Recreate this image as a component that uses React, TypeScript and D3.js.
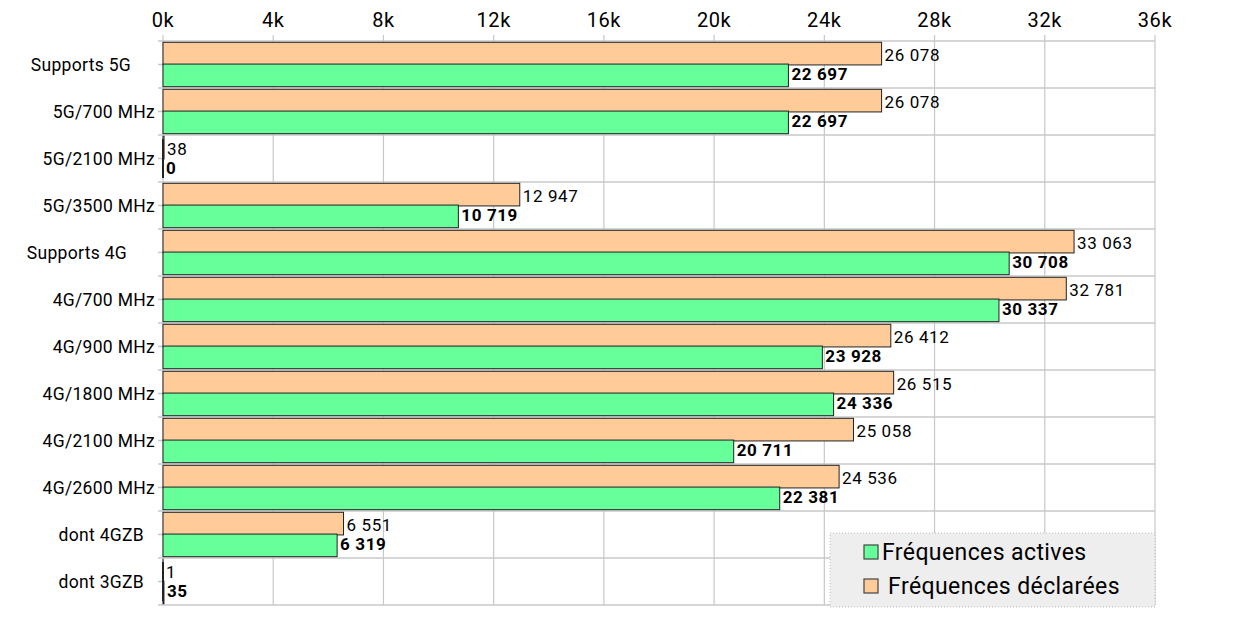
import React, { useEffect, useRef } from "react";
import * as d3 from "d3";

// categories (some are shifted left in the source chart, as if padded with spaces)
const categories = [
  "Supports 5G",
  "5G/700 MHz",
  "5G/2100 MHz",
  "5G/3500 MHz",
  "Supports 4G",
  "4G/700 MHz",
  "4G/900 MHz",
  "4G/1800 MHz",
  "4G/2100 MHz",
  "4G/2600 MHz",
  "dont 4GZB",
  "dont 3GZB",
];
const labelOffsets = [24, 0, 0, 0, 28, 0, 0, 0, 0, 0, 11, 11];

const declared = [26078, 26078, 38, 12947, 33063, 32781, 26412, 26515, 25058, 24536, 6551, 1];
const active = [22697, 22697, 0, 10719, 30708, 30337, 23928, 24336, 20711, 22381, 6319, 35];

const xTicks = [0, 4000, 8000, 12000, 16000, 20000, 24000, 28000, 32000, 36000];

const seriesNames = ["Fréquences actives", " Fréquences déclarées"];
const colors = { active: "#66ff99", declared: "#ffcc99" };

const W = 1240;
const H = 622;
const margin = { top: 41, right: 85, bottom: 17, left: 163 };
const FONT = "Roboto, 'Noto Sans', sans-serif";

const fmt = (v: number) => d3.format(",")(v).replace(/,/g, " ");

const App: React.FC = () => {
  const svgRef = useRef<SVGSVGElement | null>(null);

  useEffect(() => {
    if (!svgRef.current) return;
    const svg = d3.select(svgRef.current);
    svg.selectAll("*").remove();

    const x = d3.scaleLinear().domain([0, 36000]).range([margin.left, W - margin.right]);
    const y = d3
      .scaleBand()
      .domain(categories)
      .range([margin.top, H - margin.bottom]);
    const inner = d3
      .scaleBand()
      .domain(["declared", "active"])
      .range([0, y.bandwidth()])
      .paddingOuter(0.06)
      .paddingInner(-0.04);

    const g = svg.append("g");

    // vertical grid
    g.selectAll(".vgrid")
      .data(xTicks)
      .enter()
      .append("line")
      .attr("x1", (d) => x(d))
      .attr("x2", (d) => x(d))
      .attr("y1", margin.top - 6)
      .attr("y2", H - margin.bottom)
      .attr("stroke", "#c8c8c8")
      .attr("stroke-width", 1.2);

    // horizontal row separators
    const bounds = categories.map((c) => y(c)!).concat([H - margin.bottom]);
    g.selectAll(".hgrid")
      .data(bounds)
      .enter()
      .append("line")
      .attr("x1", margin.left - 5)
      .attr("x2", x(36000))
      .attr("y1", (d) => d)
      .attr("y2", (d) => d)
      .attr("stroke", "#c8c8c8")
      .attr("stroke-width", 1.5);

    // top axis labels
    g.selectAll(".xlab")
      .data(xTicks)
      .enter()
      .append("text")
      .attr("x", (d) => x(d))
      .attr("y", 27)
      .attr("text-anchor", "middle")
      .style("font-family", FONT)
      .style("font-size", "20px")
      .style("letter-spacing", "0.6px")
      .style("fill", "#000")
      .text((d) => `${d / 1000}k`);

    // category ticks + labels
    categories.forEach((c, i) => {
      const cy = y(c)! + y.bandwidth() / 2;
      g.append("line")
        .attr("x1", margin.left - 5)
        .attr("x2", margin.left)
        .attr("y1", cy)
        .attr("y2", cy)
        .attr("stroke", "#c8c8c8")
        .attr("stroke-width", 1.5);
      g.append("text")
        .attr("x", margin.left - 8 - labelOffsets[i])
        .attr("y", cy)
        .attr("dy", "0.35em")
        .attr("text-anchor", "end")
        .style("font-family", FONT)
        .style("font-size", "17.5px")
        .style("letter-spacing", "0.3px")
        .style("fill", "#000")
        .text(c);
    });

    // bars
    const rows = categories.map((c, i) => ({ c, declared: declared[i], active: active[i] }));
    (["declared", "active"] as const).forEach((key) => {
      g.selectAll(`.bar-${key}`)
        .data(rows)
        .enter()
        .append("rect")
        .attr("x", x(0))
        .attr("y", (d) => y(d.c)! + inner(key)!)
        .attr("width", (d) => Math.max(x(d[key]) - x(0), 0))
        .attr("height", inner.bandwidth())
        .attr("fill", colors[key])
        .attr("stroke", "#222")
        .attr("stroke-width", 1);

      g.selectAll(`.lab-${key}`)
        .data(rows)
        .enter()
        .append("text")
        .attr("x", (d) => x(d[key]) + 3)
        .attr("y", (d) => y(d.c)! + inner(key)! + inner.bandwidth() / 2 + (key === "declared" ? 1 : -1))
        .attr("dy", "0.35em")
        .style("font-family", FONT)
        .style("font-size", "17px")
        .style("letter-spacing", "0.6px")
        .style("font-weight", key === "active" ? "bold" : "normal")
        .style("fill", "#000")
        .text((d) => fmt(d[key]));
    });

    // zero-length bars get a dark baseline
    [2, 11].forEach((i) => {
      g.append("line")
        .attr("x1", x(0))
        .attr("x2", x(0))
        .attr("y1", y(categories[i])! + 4)
        .attr("y2", y(categories[i])! + y.bandwidth() - 4)
        .attr("stroke", "#222")
        .attr("stroke-width", 2);
    });

    // legend
    const lg = g.append("g").attr("transform", "translate(830,533)");
    lg.append("rect")
      .attr("width", 325)
      .attr("height", 74)
      .attr("fill", "#eeeeee")
      .attr("stroke", "#bbb")
      .attr("stroke-dasharray", "1,2");
    const legendColors = [colors.active, colors.declared];
    seriesNames.forEach((name, i) => {
      lg.append("rect")
        .attr("x", 34)
        .attr("y", 12 + i * 34)
        .attr("width", 14)
        .attr("height", 14)
        .attr("fill", legendColors[i])
        .attr("stroke", "#444")
        .attr("stroke-width", 1.2);
      lg.append("text")
        .attr("x", 52)
        .attr("y", 19 + i * 34)
        .attr("dy", "0.35em")
        .style("font-family", FONT)
        .style("font-size", "23px")
        .style("letter-spacing", "0.4px")
        .style("white-space", "pre")
        .style("fill", "#000")
        .text(name);
    });
  }, []);

  return (
    <svg
      ref={svgRef}
      width={W}
      height={H}
      style={{ position: "absolute", left: 0, top: 0, background: "#fff" }}
    />
  );
};

export default App;
